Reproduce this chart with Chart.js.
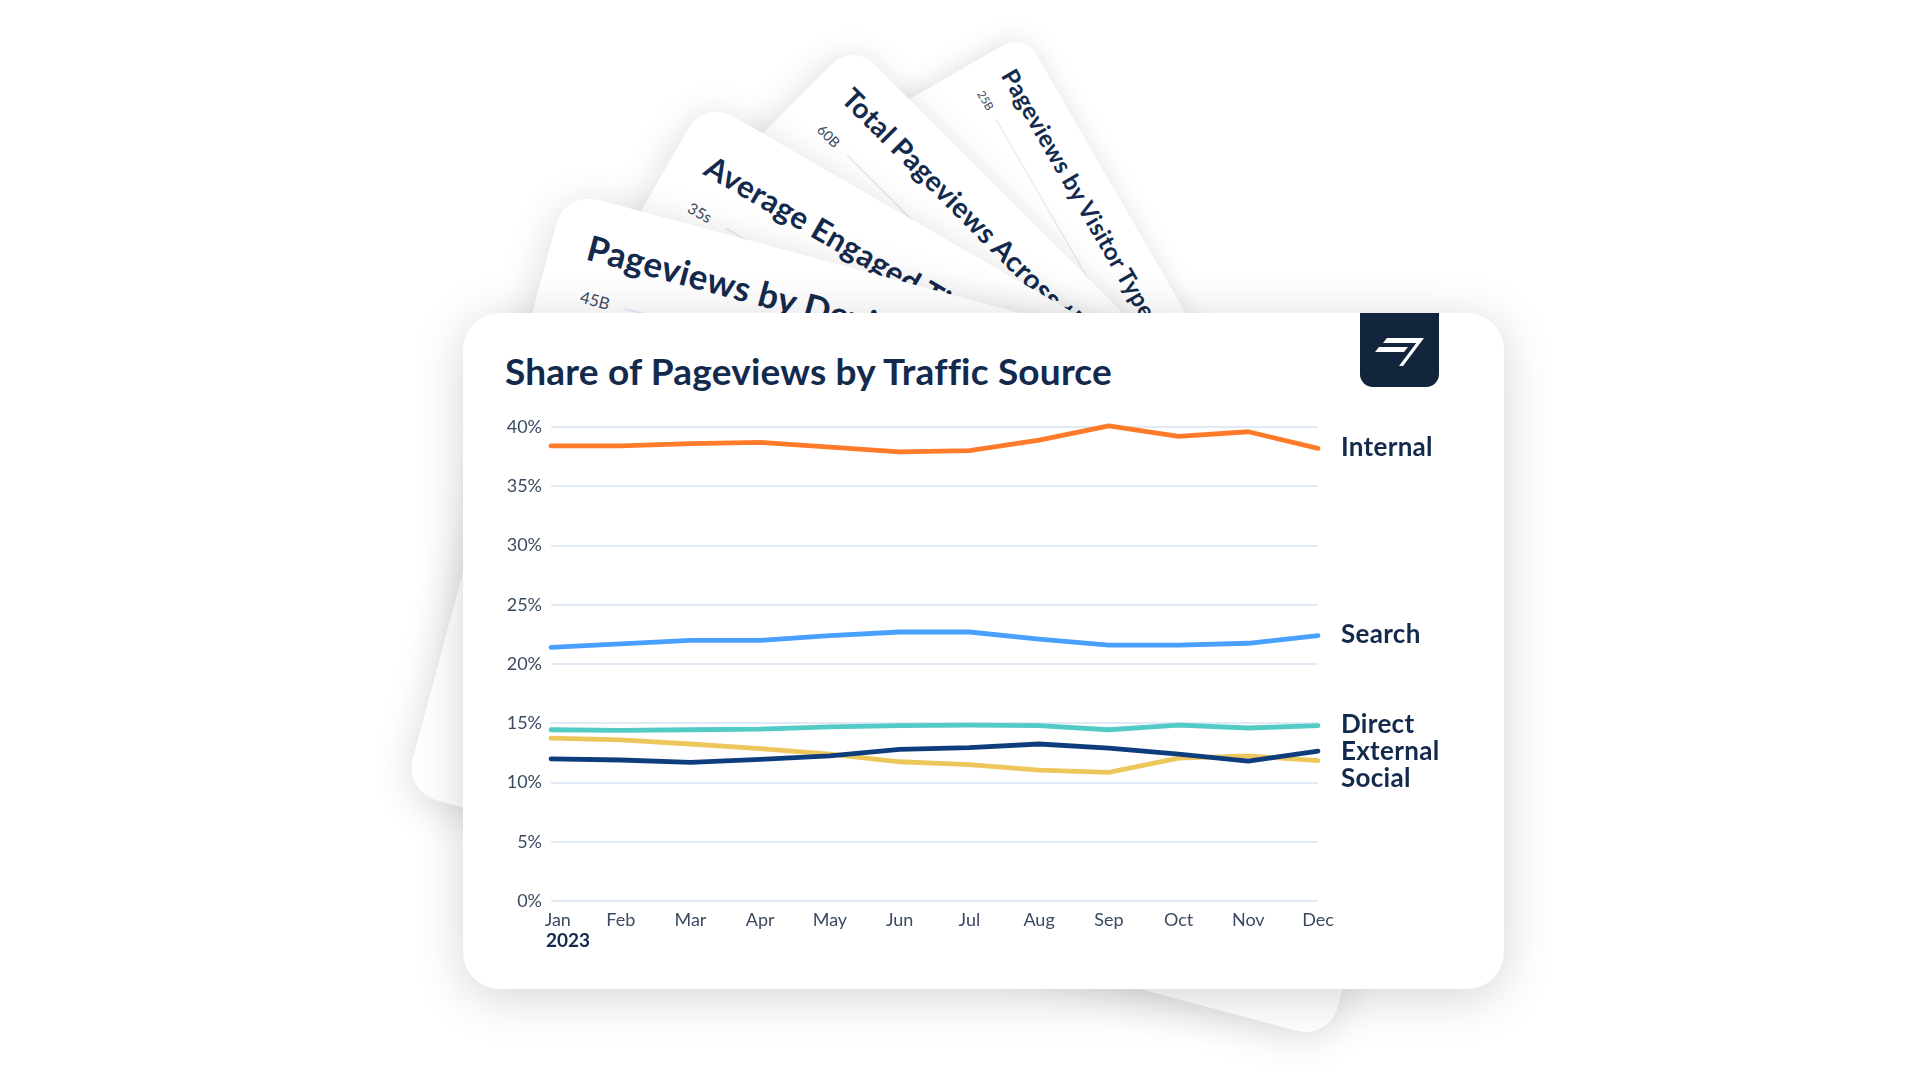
<!DOCTYPE html>
<html>
<head>
<meta charset="utf-8">
<script src="https://cdn.jsdelivr.net/npm/chart.js@4.4.1/dist/chart.umd.min.js"></script>
<style>
  body { margin: 0; width: 1920px; height: 1080px; background: #fff; position: relative; overflow: hidden; font-family: Lato, sans-serif; }
  .card { position: absolute; width: 1041px; height: 676px; border-radius: 37px; background: #fff; box-shadow: 0 6px 45px rgba(0,0,0,0.14); transform-origin: 0 0; overflow: hidden; }
  .card .bt { position: absolute; left: 40px; top: 28px; font: 700 38px Lato, sans-serif; letter-spacing: 0.5px; color: #142a4d; white-space: nowrap; }
  .card .tk { position: absolute; left: 46px; top: 95px; font: 400 18px Lato, sans-serif; color: #3a4a61; }
  .card .gl { position: absolute; left: 96px; top: 106px; width: 820px; height: 2px; background: #e1ebf8; }
  #main { left: 463px; top: 313px; box-shadow: 0 8px 50px rgba(0,0,0,0.17); overflow: visible; }
  #title { position: absolute; left: 42px; top: 35px; font: 700 37px Lato, sans-serif; letter-spacing: 0.2px; color: #142a4d; white-space: nowrap; }
  #logo { position: absolute; left: 897px; top: 0; width: 79px; height: 74px; background: #13243d; border-radius: 0 0 13px 13px; }
  #chart { position: absolute; left: 0; top: 0; }
</style>
</head>
<body>

<div class="card" style="left:1024px;top:33px;height:520px;transform:rotate(60deg) scale(0.63)">
  <div class="bt">Pageviews by Visitor Type</div><div class="tk">25B</div><div class="gl"></div>
</div>
<div class="card" style="left:853px;top:43px;height:520px;transform:rotate(45deg) scale(0.78)">
  <div class="bt" style="font-size:36px">Total Pageviews Across the Network</div><div class="tk">60B</div><div class="gl"></div>
</div>
<div class="card" style="left:705px;top:100px;height:520px;transform:rotate(30deg) scale(0.86)">
  <div class="bt" style="font-size:36px;top:40px">Average Engaged Time by Month</div><div class="tk" style="top:105px">35s</div><div class="gl" style="top:116px"></div>
</div>
<div class="card" style="left:565px;top:191px;transform:rotate(15deg) scale(0.92)">
  <div class="bt">Pageviews by Device Type</div><div class="tk">45B</div><div class="gl"></div>
</div>

<div class="card" id="main">
  <div id="title">Share of Pageviews by Traffic Source</div>
  <div id="logo">
    <svg width="79" height="74" viewBox="0 0 79 74">
      <polygon points="27,25 62,25 58,30 23,30" fill="#fff"/>
      <polygon points="19,34 48,34 44,39 15,39" fill="#fff"/>
      <polygon points="60,25 64,25 43,53 39,53" fill="#fff"/>
    </svg>
  </div>
  <canvas id="chart" width="1041" height="676"></canvas>
</div>

<script>
// months of 2023
var months = ['Jan', 'Feb', 'Mar', 'Apr', 'May', 'Jun', 'Jul', 'Aug', 'Sep', 'Oct', 'Nov', 'Dec'];

// share of pageviews, %
var internal = [38.4, 38.4, 38.6, 38.7, 38.3, 37.9, 38.0, 38.9, 40.1, 39.2, 39.6, 38.2];
var search   = [21.4, 21.7, 22.0, 22.0, 22.4, 22.7, 22.7, 22.1, 21.6, 21.6, 21.75, 22.4];
var direct   = [14.45, 14.4, 14.45, 14.5, 14.7, 14.8, 14.85, 14.8, 14.45, 14.85, 14.6, 14.8];
var external = [12.0, 11.9, 11.7, 11.95, 12.25, 12.8, 12.95, 13.25, 12.9, 12.4, 11.8, 12.65];
var social   = [13.75, 13.6, 13.25, 12.85, 12.4, 11.75, 11.5, 11.05, 10.85, 12.05, 12.25, 11.85];

var yearLabel = '2023';
var navy = '#142a4d';

// names at the end of each line, pushed apart so they don't overlap
var endLabels = {
  id: 'endLabels',
  afterDatasetsDraw: function(chart) {
    var ctx = chart.ctx;
    var area = chart.chartArea;
    var items = chart.data.datasets.map(function(ds, i) {
      var pts = chart.getDatasetMeta(i).data;
      return { text: ds.label, y: pts[pts.length - 1].y };
    });
    items.sort(function(a, b) { return a.y - b.y; });
    for (var i = 1; i < items.length; i++) {
      if (items[i].y - items[i - 1].y < 27) items[i].y = items[i - 1].y + 27;
    }
    ctx.save();
    ctx.font = '700 26px Lato';
    ctx.letterSpacing = '0.3px';
    ctx.fillStyle = navy;
    ctx.textBaseline = 'middle';
    ctx.textAlign = 'left';
    items.forEach(function(it) { ctx.fillText(it.text, area.right + 23, it.y - 1); });

    // year under the first month
    var x = chart.scales.x.getPixelForValue(0);
    ctx.font = '700 19px Lato';
    ctx.letterSpacing = '0px';
    ctx.fillText(yearLabel, x - 5, area.bottom + 40);
    ctx.restore();
  }
};

function line(label, data, color) {
  return {
    label: label,
    data: data,
    borderColor: color,
    backgroundColor: color,
    borderWidth: 4.8,
    pointRadius: 0,
    tension: 0,
    fill: false,
    clip: false,
    borderCapStyle: 'round',
    borderJoinStyle: 'round'
  };
}

var ctx = document.getElementById('chart').getContext('2d');
var myChart = new Chart(ctx, {
  type: 'line',
  data: {
    labels: months,
    datasets: [
      line('Internal', internal, '#ff7b2b'),
      line('Search', search, '#4aa0ff'),
      line('Direct', direct, '#52cac5'),
      line('External', external, '#0e3d7e'),
      line('Social', social, '#eec75c')
    ]
  },
  options: {
    responsive: false,
    animation: false,
    layout: { padding: { top: 114, right: 186, bottom: 48, left: 0 } },
    plugins: { legend: { display: false }, tooltip: { enabled: false } },
    scales: {
      x: {
        offset: false,
        grid: { display: false, drawTicks: false },
        border: { display: false },
        ticks: {
          padding: 8,
          color: '#3a4a61',
          font: { family: 'Lato', size: 18 },
          maxRotation: 0,
          autoSkip: false,
          // first label sits a little right, flush with the year below it
          callback: function(v, i) { return i === 0 ? '\u2003' + months[i] : months[i]; }
        },
        afterFit: function(scale) { scale.height = 40; }
      },
      y: {
        min: 0,
        max: 40,
        grid: { color: '#e1ebf8', lineWidth: 2, drawTicks: false },
        border: { display: false },
        ticks: {
          stepSize: 5,
          padding: 9,
          color: '#3a4a61',
          font: { family: 'Lato', size: 18 },
          callback: function(v) { return v + '%'; }
        },
        afterFit: function(scale) { scale.width = 88; }
      }
    }
  },
  plugins: [endLabels]
});
</script>
</body>
</html>
